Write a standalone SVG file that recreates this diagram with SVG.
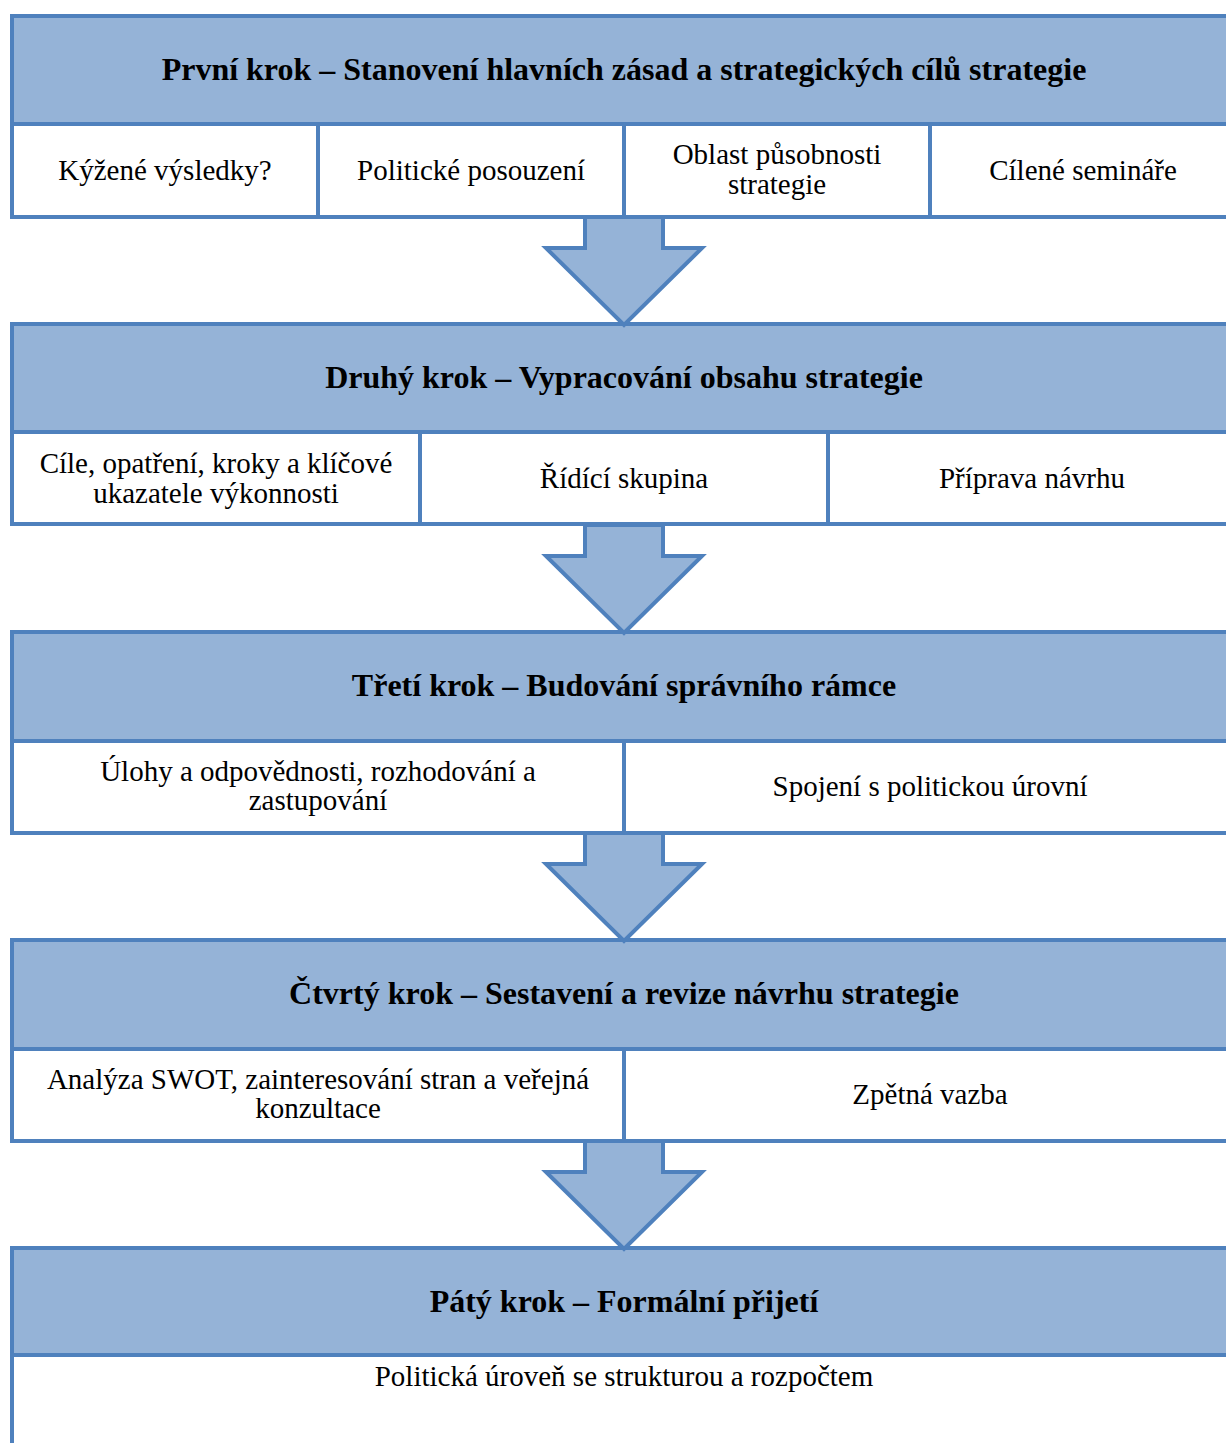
<svg xmlns="http://www.w3.org/2000/svg" width="1226" height="1443" viewBox="0 0 1226 1443">
<style>
.hd{fill:#95B3D7;stroke:#4F81BD;stroke-width:4}
.cell{fill:#FFFFFF;stroke:#4F81BD;stroke-width:4}
.arr{fill:#95B3D7;stroke:#4F81BD;stroke-width:4;stroke-linejoin:miter}
.t{font-family:"Liberation Serif","Times New Roman",serif;font-size:29px;fill:#000;text-anchor:middle}
.b{font-weight:bold;font-size:32px}
</style>
<rect width="1226" height="1443" fill="#FFFFFF"/>
<g id="step1">
<rect class="hd" x="12" y="16" width="1224" height="108"/>
<rect class="cell" x="12" y="124" width="306" height="93"/>
<rect class="cell" x="318" y="124" width="306" height="93"/>
<rect class="cell" x="624" y="124" width="306" height="93"/>
<rect class="cell" x="930" y="124" width="306" height="93"/>
<text class="t b" x="624" y="80">První krok – Stanovení hlavních zásad a strategických cílů strategie</text>
<text class="t" x="165" y="180">Kýžené výsledky?</text>
<text class="t" x="471" y="180">Politické posouzení</text>
<text class="t" x="777" y="164">Oblast působnosti</text>
<text class="t" x="777" y="194">strategie</text>
<text class="t" x="1083" y="180">Cílené semináře</text>
</g>
<g id="step2">
<rect class="hd" x="12" y="324" width="1224" height="108"/>
<rect class="cell" x="12" y="432" width="408" height="92"/>
<rect class="cell" x="420" y="432" width="408" height="92"/>
<rect class="cell" x="828" y="432" width="408" height="92"/>
<text class="t b" x="624" y="388">Druhý krok – Vypracování obsahu strategie</text>
<text class="t" x="216" y="473">Cíle, opatření, kroky a klíčové</text>
<text class="t" x="216" y="503">ukazatele výkonnosti</text>
<text class="t" x="624" y="488">Řídící skupina</text>
<text class="t" x="1032" y="488">Příprava návrhu</text>
</g>
<g id="step3">
<rect class="hd" x="12" y="632" width="1224" height="109"/>
<rect class="cell" x="12" y="741" width="612" height="92"/>
<rect class="cell" x="624" y="741" width="612" height="92"/>
<text class="t b" x="624" y="696">Třetí krok – Budování správního rámce</text>
<text class="t" x="318" y="781">Úlohy a odpovědnosti, rozhodování a</text>
<text class="t" x="318" y="810">zastupování</text>
<text class="t" x="930" y="796">Spojení s politickou úrovní</text>
</g>
<g id="step4">
<rect class="hd" x="12" y="940" width="1224" height="109"/>
<rect class="cell" x="12" y="1049" width="612" height="92"/>
<rect class="cell" x="624" y="1049" width="612" height="92"/>
<text class="t b" x="624" y="1004">Čtvrtý krok – Sestavení a revize návrhu strategie</text>
<text class="t" x="318" y="1089">Analýza SWOT, zainteresování stran a veřejná</text>
<text class="t" x="318" y="1118">konzultace</text>
<text class="t" x="930" y="1104">Zpětná vazba</text>
</g>
<g id="step5">
<rect class="hd" x="12" y="1248" width="1224" height="107"/>
<rect class="cell" x="12" y="1355" width="1224" height="120"/>
<text class="t b" x="624" y="1312">Pátý krok – Formální přijetí</text>
<text class="t" x="624" y="1386">Politická úroveň se strukturou a rozpočtem</text>
</g>
<g id="connectors">
<polygon class="arr" points="585,217 585,248 546,248 624,325 702,248 663,248 663,217"/>
<polygon class="arr" points="585,525 585,556 546,556 624,633 702,556 663,556 663,525"/>
<polygon class="arr" points="585,833 585,864 546,864 624,941 702,864 663,864 663,833"/>
<polygon class="arr" points="585,1141 585,1172 546,1172 624,1249 702,1172 663,1172 663,1141"/>
</g>
</svg>
